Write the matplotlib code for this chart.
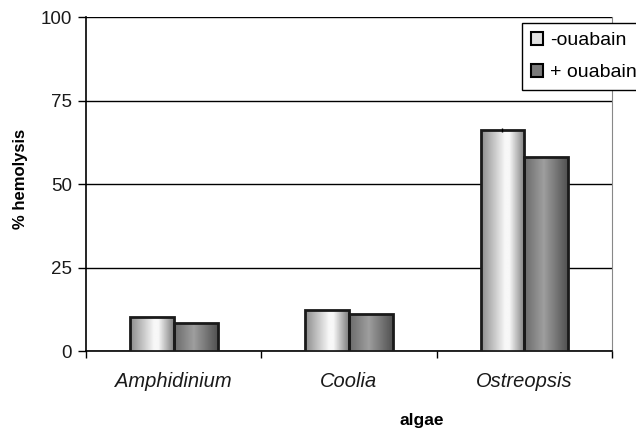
import matplotlib.pyplot as plt
import numpy as np
from matplotlib.patches import Rectangle, Patch

# hemolysis per alga, with and without ouabain
algae = ["Amphidinium", "Coolia", "Ostreopsis"]
minus_ouabain = [10.2, 12.2, 66.3]
plus_ouabain = [8.5, 11.2, 58.2]
err_minus = [0, 0, 0.6]

plt.rcParams['font.family'] = ['Liberation Sans', 'DejaVu Sans']

fig = plt.figure(figsize=(6.36, 4.30), dpi=100)
ax = fig.add_axes([86 / 636, 1 - 351 / 430, 526 / 636, 334 / 430])

x = np.arange(len(algae))
w = 0.25

# cylinder-like shading across each bar
def shaded_bar(x0, h, stops, levels):
    rect = Rectangle((x0, 0), w, h, facecolor='none', edgecolor='#1a1a1a',
                     linewidth=2, zorder=4)
    ax.add_patch(rect)
    t = np.linspace(0, 1, 64)
    g = np.interp(t, stops, levels)
    img = ax.imshow(g[None, :], cmap='gray', vmin=0, vmax=1, aspect='auto',
                    extent=(x0, x0 + w, 0, h), zorder=3, interpolation='bilinear')
    img.set_clip_path(rect)

for i in range(len(algae)):
    shaded_bar(x[i] - w, minus_ouabain[i], [0, 0.55, 0.65, 1], [0.55, 0.97, 0.97, 0.5])
    shaded_bar(x[i], plus_ouabain[i], [0, 0.45, 1], [0.42, 0.62, 0.32])

for i, e in enumerate(err_minus):
    if e > 0:
        ax.errorbar(x[i] - w / 2, minus_ouabain[i], yerr=e, color='black',
                    linewidth=1, capsize=0, zorder=5)

ax.set_xlim(-0.5, 2.5)
ax.set_ylim(0, 100)
ax.set_yticks([0, 25, 50, 75, 100])
ax.yaxis.grid(True, color='black', linewidth=1)
ax.set_axisbelow(True)
ax.tick_params(axis='y', direction='out', length=6, width=1, labelsize=13.5, pad=4,
               colors='black', labelcolor='#1a1a1a')

ax.set_xticks(x)
ax.set_xticklabels(algae, fontstyle='italic', fontsize=14.5, color='#1a1a1a')
ax.set_xticks([-0.5, 0.5, 1.5, 2.5], minor=True)
ax.tick_params(axis='x', which='major', length=0, pad=15)
ax.tick_params(axis='x', which='minor', length=5, width=1, direction='out')

for s in ['left', 'bottom']:
    ax.spines[s].set_linewidth(1.2)
ax.spines['top'].set_visible(False)
ax.spines['right'].set_color('#888888')

ax.set_ylabel('% hemolysis', fontweight='bold', fontsize=12)
ax.yaxis.set_label_coords((28 - 86) / 526, (351 - 179) / 334)
ax.set_xlabel('algae', fontweight='bold', fontsize=12.5, va='center')
ax.xaxis.set_label_coords((422 - 86) / 526, (351 - 421) / 334)

handles = [Patch(facecolor='#e0e0e0', edgecolor='black', linewidth=1.5),
           Patch(facecolor='#7a7a7a', edgecolor='black', linewidth=1.5)]
leg = fig.legend(handles, ['-ouabain', '+ ouabain'], loc='upper left',
                 bbox_to_anchor=(522 / 636, 1 - 23 / 430), fontsize=14,
                 frameon=True, fancybox=False, edgecolor='black', framealpha=1,
                 handlelength=0.65, handleheight=0.65, handletextpad=0.35,
                 labelspacing=0.75, borderpad=0.45, borderaxespad=0)
leg.get_frame().set_linewidth(1)

fig.savefig('out.png', dpi=100)
